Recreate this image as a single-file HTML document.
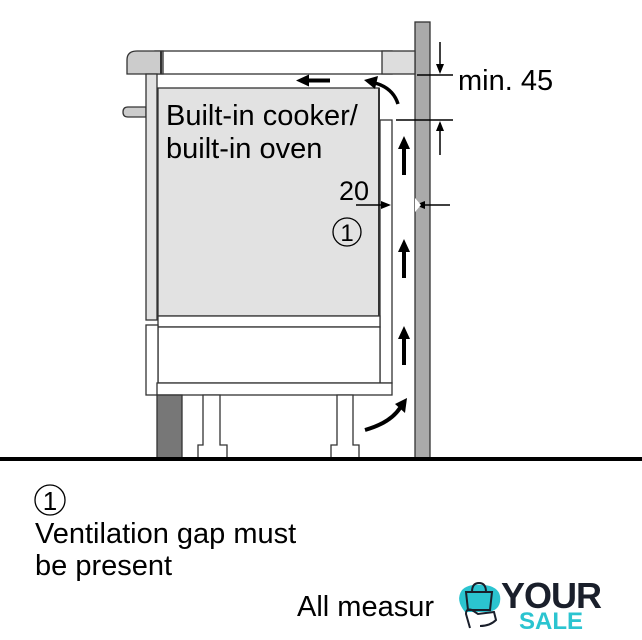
<!DOCTYPE html>
<html><head><style>
body{margin:0;background:#fff;}
svg{display:block;font-family:"Liberation Sans",Arial,sans-serif;}
</style></head><body>
<svg width="642" height="640" viewBox="0 0 642 640" xmlns="http://www.w3.org/2000/svg">
<defs>
<marker id="ah" markerWidth="10" markerHeight="8" refX="8" refY="4" orient="auto" markerUnits="userSpaceOnUse"><path d="M0,0 L10,4 L0,8 z" fill="#000"/></marker>
</defs>
<g stroke="#333" stroke-width="1.3">
<rect x="415" y="22" width="15" height="437" fill="#aaa"/>
<rect x="155" y="51" width="237" height="23" fill="#fff"/>
<path d="M137,51 H163 V74 H127 V60 Q127,51 137,51 Z" fill="#ccc"/>
<line x1="161" y1="51" x2="161" y2="74" stroke-width="2"/>
<rect x="382" y="51" width="33" height="23" fill="#ddd"/>
<path d="M146,107 H128 Q123,107 123,112 Q123,117 128,117 H146 Z" fill="#ccc"/>
<rect x="146" y="74" width="11" height="246" fill="#e2e2e2"/>
<rect x="158" y="88" width="221" height="228" fill="#e2e2e2"/>
<line x1="379" y1="88" x2="379" y2="316" stroke-width="2"/>
<rect x="380" y="120" width="12" height="263" fill="#fff"/>
<rect x="158" y="316" width="222" height="11" fill="#fff"/>
<rect x="158" y="327" width="222" height="56" fill="#fff"/>
<rect x="146" y="325" width="12" height="70" fill="#fff"/>
<rect x="157" y="383" width="235" height="12" fill="#fff"/>
<rect x="157" y="395" width="25" height="63" fill="#777"/>
<path d="M203,395 V445 H198 V458 H227 V445 H220 V395 Z" fill="#fff"/>
<path d="M337,395 V445 H331 V458 H359 V445 H353 V395 Z" fill="#fff"/>
</g>
<rect x="0" y="457" width="642" height="4" fill="#000"/>
<g fill="#000">
<rect x="308" y="78.5" width="22" height="4"/><path d="M296,80.5 L309,74.5 L309,86.5 Z"/>
<rect x="402" y="147" width="4" height="28"/><path d="M404,136 L398,149 L410,149 Z"/>
<rect x="402" y="250" width="4" height="28"/><path d="M404,239 L398,252 L410,252 Z"/>
<rect x="402" y="337" width="4" height="28"/><path d="M404,326 L398,339 L410,339 Z"/>
</g>
<path d="M398,104 Q393,88 375,83" stroke="#000" stroke-width="3.5" fill="none"/>
<path d="M364,80 L378,76 L375,89 Z" fill="#000"/>
<path d="M365,430 Q390,423 400,408" stroke="#000" stroke-width="4" fill="none"/>
<path d="M407,398 L395,404 L405,413 Z" fill="#000"/>
<g stroke="#000" stroke-width="1.5">
<line x1="417" y1="75" x2="453" y2="75"/>
<line x1="396" y1="120" x2="453" y2="120"/>
<line x1="440" y1="42" x2="440" y2="72" marker-end="url(#ah)"/>
<line x1="440" y1="155" x2="440" y2="123" marker-end="url(#ah)"/>
<line x1="356" y1="205" x2="389" y2="205" marker-end="url(#ah)"/>
<line x1="450" y1="205" x2="417" y2="205" marker-end="url(#ah)"/>
</g>
<path d="M415,198 L421,205 L415,212 Z" fill="#fff"/>
<text x="458" y="90" font-size="29">min. 45</text>
<text x="339" y="200" font-size="27">20</text>
<circle cx="347" cy="232" r="14" fill="none" stroke="#000" stroke-width="1.3"/>
<text x="347" y="241" font-size="24" text-anchor="middle">1</text>
<text x="166" y="125" font-size="29">Built-in cooker/</text>
<text x="166" y="158" font-size="29">built-in oven</text>
<circle cx="50" cy="500" r="15" fill="none" stroke="#000" stroke-width="1.3"/>
<text x="50" y="510" font-size="26" text-anchor="middle">1</text>
<text x="35" y="543" font-size="29">Ventilation gap must</text>
<text x="35" y="575" font-size="29">be present</text>
<text x="297" y="616" font-size="29">All measur</text>
<rect x="441" y="588" width="16" height="40" fill="#fff"/>
<path d="M462,590 Q470,582 490,586 Q502,590 500,602 Q498,612 485,612 L465,612 Q455,600 462,590 Z" fill="#2bc4d0"/>
<path d="M466,592 H492 L490,610 H468 Z M472,592 Q472,583 479,583 Q486,583 486,592" fill="none" stroke="#1a1f2b" stroke-width="2"/>
<path d="M470,628 L466,614 Q466,608 472,610 L478,614 L494,612 L496,620 Q490,626 480,626" fill="none" stroke="#1a1f2b" stroke-width="2"/>
<text x="501" y="608" font-size="36" font-weight="bold" fill="#1a1f2b" letter-spacing="-1">YOUR</text>
<text x="519" y="629" font-size="24" font-weight="bold" fill="#2bc4d0">SALE</text>
</svg>
</body></html>
